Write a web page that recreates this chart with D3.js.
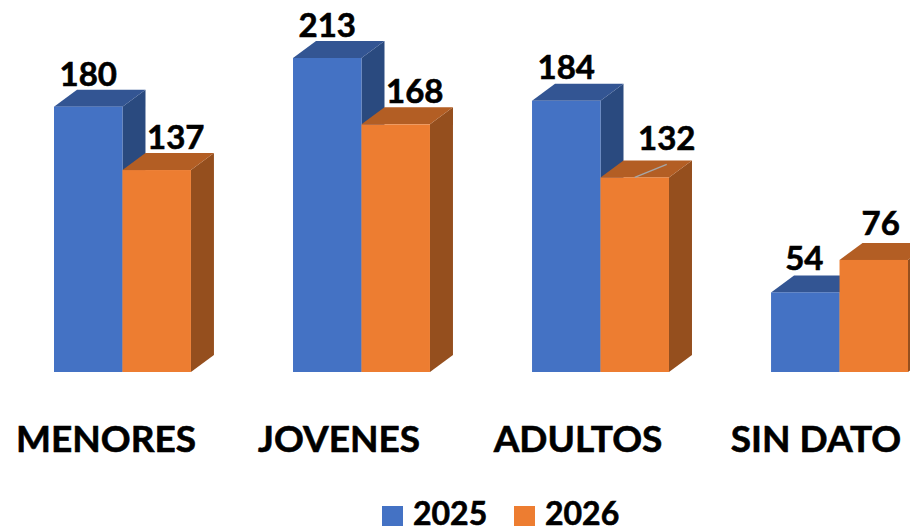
<!DOCTYPE html>
<html lang="en">
<head>
<meta charset="UTF-8">
<title>Menores, jovenes, adultos</title>
<script src="https://cdn.jsdelivr.net/npm/d3@7"></script>
<style>
    html, body { margin: 0; padding: 0; background: #fff; overflow: hidden; }
    text { font-family: Lato, "Open Sans", sans-serif; font-weight: 700; fill: #000; stroke: #000; stroke-width: 0.6px; }
</style>
</head>
<body>
<div id="chart"></div>
<script>
const categories = ["MENORES", "JOVENES", "ADULTOS", "SIN DATO"];
const seriesNames = ["2025", "2026"];
const values2025 = [180, 213, 184, 54];
const values2026 = [137, 168, 132, 76];

const width = 910;
const height = 526;
const baseY = 372;
const depthX = 23;
const depthY = 17;

// front, top, side
const shades = {
    "2025": ["#4472c4", "#335593", "#2a4a7f"],
    "2026": ["#ed7d31", "#b35e24", "#954f1e"]
};

// label shift from bar centre, same order as categories
const nudge = {
    "2025": [[0, 0], [0, 0], [0, 1], [-1, 1]],
    "2026": [[19, 0], [19, 0], [32, 6], [7, 4]]
};

const svg = d3.select("#chart").append("svg")
    .attr("width", width)
    .attr("height", height)
    .style("display", "block");

const x0 = d3.scaleBand()
    .domain(categories)
    .range([54, 908])
    .paddingInner(0.427)
    .paddingOuter(0);

const x1 = d3.scaleBand()
    .domain(seriesNames)
    .range([0, x0.bandwidth()]);

const y = d3.scaleLinear()
    .domain([0, 213])
    .range([baseY, 58]);

const seriesValues = { "2025": values2025, "2026": values2026 };

const poly = pts => pts.map(p => p.join(",")).join(" ");

categories.forEach((cat, i) => {
    const g = svg.append("g");
    seriesNames.forEach(name => {
        const v = seriesValues[name][i];
        const left = x0(cat) + x1(name);
        const right = left + x1.bandwidth();
        const top = y(v);
        const [front, topFace, sideFace] = shades[name];

        g.append("polygon")
            .attr("points", poly([[right, top], [right + depthX, top - depthY], [right + depthX, baseY - depthY], [right, baseY]]))
            .attr("fill", sideFace);
        g.append("polygon")
            .attr("points", poly([[left, top], [left + depthX, top - depthY], [right + depthX, top - depthY], [right, top]]))
            .attr("fill", topFace);
        g.append("rect")
            .attr("x", left)
            .attr("y", top)
            .attr("width", right - left)
            .attr("height", baseY - top)
            .attr("fill", front);
    });
});

// leader line of the 132 label
const leaderBar = x0("ADULTOS") + x1("2026") + x1.bandwidth() / 2;
svg.append("line")
    .attr("x1", leaderBar)
    .attr("y1", y(132))
    .attr("x2", leaderBar + 32)
    .attr("y2", y(132) - 13)
    .attr("stroke", "#a6a6a6")
    .attr("stroke-width", 1.5);

// data labels on top of all bars
categories.forEach((cat, i) => {
    seriesNames.forEach(name => {
        const v = seriesValues[name][i];
        const [dx, dy] = nudge[name][i];
        svg.append("text")
            .attr("x", x0(cat) + x1(name) + x1.bandwidth() / 2 + dx)
            .attr("y", y(v) - 21 - dy)
            .attr("text-anchor", "middle")
            .attr("font-size", 33)
            .text(v);
    });
});

// category labels
const catCenters = [106, 339, 578, 816];
categories.forEach((cat, i) => {
    svg.append("text")
        .attr("x", catCenters[i])
        .attr("y", 452)
        .attr("text-anchor", "middle")
        .attr("font-size", 37)
        .text(cat);
});

// legend
const legend = svg.append("g");
[[382, 413], [514, 545]].forEach(([sx, tx], i) => {
    const name = seriesNames[i];
    legend.append("rect")
        .attr("x", sx)
        .attr("y", 506)
        .attr("width", 21)
        .attr("height", 20)
        .attr("fill", shades[name][0]);
    legend.append("text")
        .attr("x", tx)
        .attr("y", 525)
        .attr("font-size", 32)
        .text(name);
});
</script>
</body>
</html>
